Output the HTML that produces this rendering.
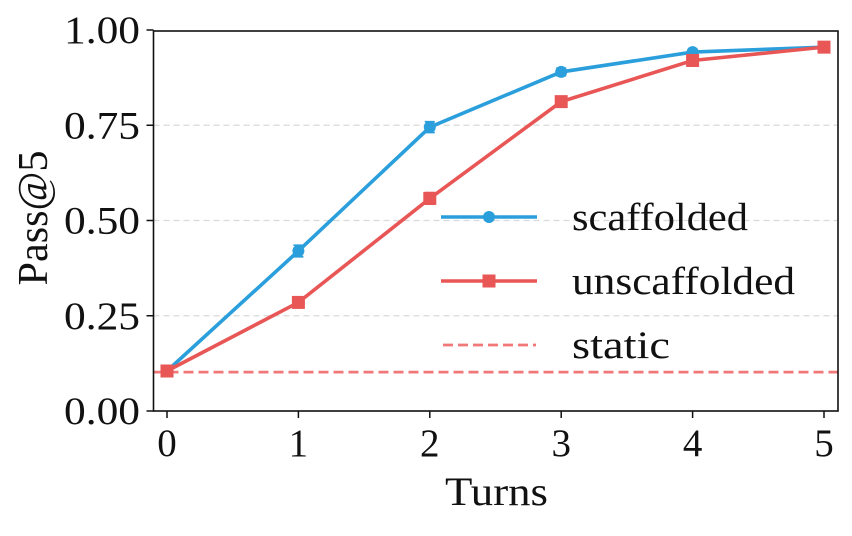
<!DOCTYPE html>
<html><head><meta charset="utf-8"><style>
body{margin:0;background:#fff}
svg text{font-family:"Liberation Serif","DejaVu Serif",serif;fill:#111}
</style></head><body>
<svg id="chart" width="852" height="531" viewBox="0 0 852 531"></svg>
<script>
const turns=[0,1,2,3,4,5];
const scaffolded=[0.105,0.42,0.745,0.89,0.942,0.955];
const scaffErr=[0.01,0.015,0.014,0.01,0.007,0.006];
const unscaffolded=[0.105,0.285,0.558,0.812,0.92,0.955];
const unscaffErr=[0.008,0.012,0.015,0.01,0.008,0.006];
const staticVal=0.102;
const yTicks=[0,0.25,0.5,0.75,1.0];
const yTickLabels=["0.00","0.25","0.50","0.75","1.00"];
const xTickLabels=["0","1","2","3","4","5"];

const svg=document.getElementById('chart');
const NS='http://www.w3.org/2000/svg';
const L=153.5,R=838,T=31,B=411;
const X=v=>167+v*131.4;
const Y=v=>411-v*381;
function mk(tag,attrs,parent){const e=document.createElementNS(NS,tag);for(const k in attrs)e.setAttribute(k,attrs[k]);(parent||svg).appendChild(e);return e;}

yTicks.forEach((t,i)=>{
  if(t>0&&t<1){const g=mk('line',{x1:L,x2:R,y1:Y(t),y2:Y(t),stroke:'#d9d9d9','stroke-width':1.3,'stroke-dasharray':'6,4'});
  
  }
  const tk=mk('line',{x1:L-7,x2:L,y1:Y(t),y2:Y(t),stroke:'#111','stroke-width':1.5});
  
  
  const tx=mk('text',{x:64,y:Y(t)+13,'font-size':39,textLength:76,lengthAdjust:'spacingAndGlyphs'});
  tx.textContent=yTickLabels[i];
  
  
});
turns.forEach((t,i)=>{
  const tk=mk('line',{x1:X(t),x2:X(t),y1:B,y2:B+7,stroke:'#111','stroke-width':1.5});
  
  
  const tx=mk('text',{x:X(t),y:B+45,'text-anchor':'middle','font-size':39});
  tx.textContent=xTickLabels[i];
  
  
});

const st=mk('line',{x1:L,x2:R,y1:Y(staticVal),y2:Y(staticVal),stroke:'#f07878','stroke-width':2.8,'stroke-dasharray':'10,5'});



function series(vals,errs,color,marker,name){
  const p=mk('polyline',{points:vals.map((v,i)=>X(turns[i])+','+Y(v)).join(' '),fill:'none',stroke:color,'stroke-width':3.6});
  
  
  vals.forEach((v,i)=>{
    const x=X(turns[i]),y=Y(v),e=errs[i]*381;
    const eb=mk('path',{d:`M${x},${y-e}V${y+e}M${x-5},${y-e}H${x+5}M${x-5},${y+e}H${x+5}`,stroke:color,'stroke-width':1.8,fill:'none'});
    
    
    let m;
    if(marker==='circle')m=mk('circle',{cx:x,cy:y,r:6,fill:color});
    else m=mk('rect',{x:x-6.5,y:y-6.5,width:13,height:13,fill:color});
    
    
  });
}
series(scaffolded,scaffErr,'#2b9fdc','circle','scaffolded');
series(unscaffolded,unscaffErr,'#e85656','square','unscaffolded');

const fr=mk('rect',{x:L,y:T,width:R-L,height:B-T,fill:'none',stroke:'#111','stroke-width':1.6});



const lg=mk('g',{});


const entries=[['scaffolded','#2b9fdc','circle',217,176],['unscaffolded','#e85656','square',281,223],['static','#f07878','dash',345,98]];
entries.forEach(([lab,c,m,y,w])=>{
  const g=mk('g',{},lg);
  
  
  if(m==='dash')mk('line',{x1:443,x2:536,y1:y,y2:y,stroke:c,'stroke-width':2.8,'stroke-dasharray':'10,5'},g);
  else{mk('line',{x1:441,x2:537,y1:y,y2:y,stroke:c,'stroke-width':3.6},g);
    if(m==='circle')mk('circle',{cx:489,cy:y,r:6,fill:c},g);else mk('rect',{x:482.5,y:y-6.5,width:13,height:13,fill:c},g);}
  const t=mk('text',{x:572,y:y+13,'font-size':39,textLength:w,lengthAdjust:'spacingAndGlyphs'},g);t.textContent=lab;
});

const xt=mk('text',{x:445,y:505,'font-size':40,textLength:103,lengthAdjust:'spacingAndGlyphs'});
xt.textContent='Turns';


const yt=mk('text',{x:0,y:0,'text-anchor':'middle','font-size':42,textLength:135,lengthAdjust:'spacingAndGlyphs',transform:'translate(47,218) rotate(-90)'});
yt.textContent='Pass@5';


</script>
</body></html>
